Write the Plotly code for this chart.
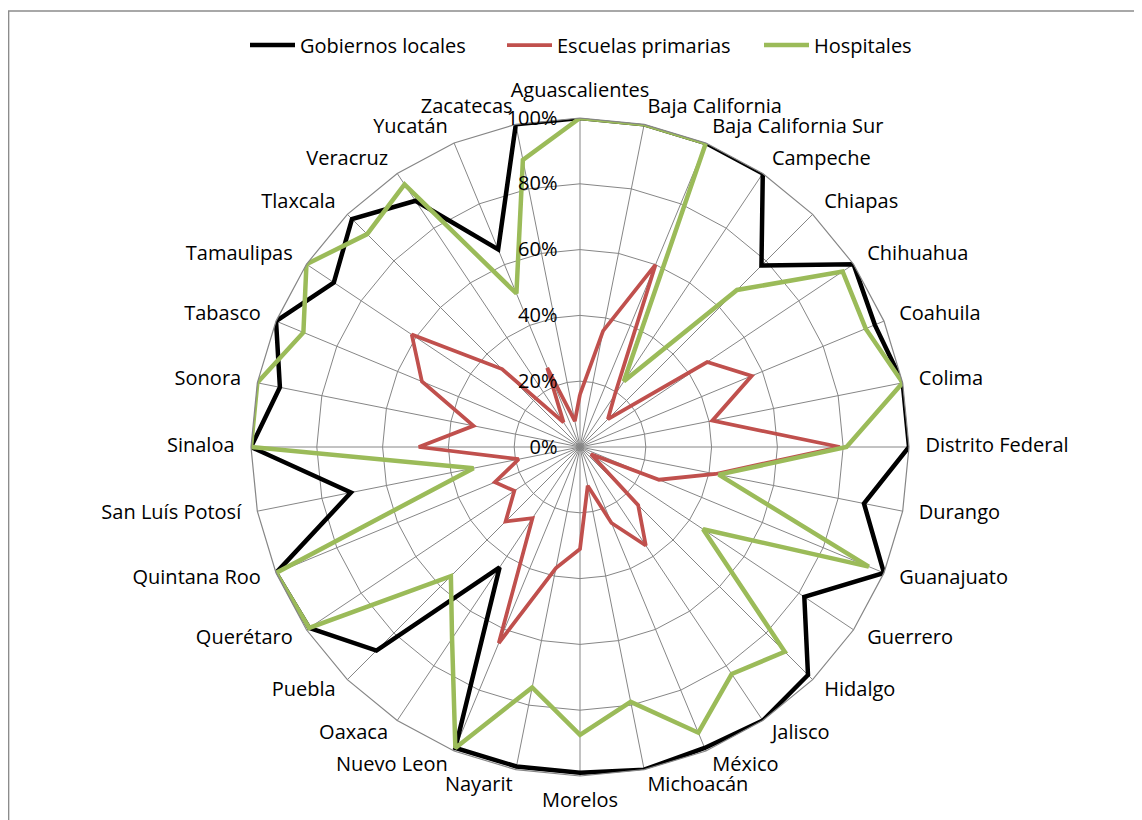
import plotly.graph_objects as go

estados = ["Aguascalientes", "Baja California", "Baja California Sur", "Campeche", "Chiapas",
           "Chihuahua", "Coahuila", "Colima", "Distrito Federal", "Durango", "Guanajuato",
           "Guerrero", "Hidalgo", "Jalisco", "México", "Michoacán", "Morelos", "Nayarit",
           "Nuevo Leon", "Oaxaca", "Puebla", "Querétaro", "Quintana Roo", "San Luís Potosí",
           "Sinaloa", "Sonora", "Tabasco", "Tamaulipas", "Tlaxcala", "Veracruz", "Yucatán",
           "Zacatecas"]

gobiernos_locales = [1.00, 1.00, 1.00, 1.00, 0.78, 1.00, 0.97, 1.00, 1.00, 0.88, 1.00,
                     0.82, 0.98, 1.00, 0.99, 1.00, 0.99, 0.99, 0.99, 0.44, 0.875, 0.99,
                     1.00, 0.71, 1.00, 0.93, 1.00, 0.90, 0.98, 0.90, 0.65, 1.00]

escuelas_primarias = [0.16, 0.36, 0.60, 0.19, 0.12, 0.465, 0.565, 0.41, 0.79, 0.42, 0.26,
                      0.04, 0.25, 0.36, 0.25, 0.12, 0.31, 0.375, 0.645, 0.26, 0.32, 0.24,
                      0.28, 0.19, 0.49, 0.33, 0.52, 0.615, 0.335, 0.09, 0.26, 0.08]

hospitales = [1.00, 1.00, 1.00, 0.24, 0.675, 0.96, 0.94, 1.00, 0.81, 0.43, 0.95,
              0.45, 0.88, 0.83, 0.94, 0.79, 0.875, 0.745, 0.99, 0.70, 0.555, 0.99,
              1.00, 0.33, 1.00, 1.00, 0.91, 1.00, 0.915, 0.96, 0.505, 0.89]

series = [
    ("Gobiernos locales", gobiernos_locales, "#000000", 4.5),
    ("Escuelas primarias", escuelas_primarias, "#C0504D", 3.75),
    ("Hospitales", hospitales, "#9BBB59", 4.5),
]

FONT = "Open Sans"
fig = go.Figure()
for name, vals, color, w in series:
    fig.add_trace(go.Scatterpolar(
        r=vals + vals[:1],
        theta=estados + estados[:1],
        mode="lines",
        name=name,
        line=dict(color=color, width=w),
        subplot="polar",
    ))

# Category labels placed Excel-style just outside the outer ring (on an overlay polar)
n = len(estados)
label_pos = []
for i in range(n):
    if i == 0:
        label_pos.append("top center")
    elif i == n // 2:
        label_pos.append("bottom center")
    elif i < n // 2:
        label_pos.append("middle right")
    else:
        label_pos.append("middle left")

LABEL_R = 1.05
fig.add_trace(go.Scatterpolar(
    r=[LABEL_R] * n,
    theta=estados,
    mode="text",
    text=estados,
    textposition=label_pos,
    textfont=dict(family=FONT, size=20, color="#000000"),
    showlegend=False,
    hoverinfo="skip",
    subplot="polar2",
))

W, H = 1142, 820
OFF = 8  # page body margin
cx, cy, R = 580 - OFF, 447 - OFF, 329
EXT = 1.1
R2 = R * EXT

angular_common = dict(
    type="category",
    categoryorder="array",
    categoryarray=estados,
    rotation=90,
    direction="clockwise",
)

fig.update_layout(
    width=W, height=H,
    margin=dict(l=0, r=0, t=0, b=0),
    paper_bgcolor="white",
    font=dict(family=FONT, size=20, color="#000000"),
    showlegend=True,
    legend=dict(orientation="h", x=(245 - OFF) / W, xanchor="left",
                y=1 - (45 - OFF) / H, yanchor="middle",
                itemwidth=45, entrywidth=197,
                font=dict(family=FONT, size=20), bgcolor="rgba(0,0,0,0)"),
    polar=dict(
        domain=dict(x=[(cx - R) / W, (cx + R) / W], y=[(H - cy - R) / H, (H - cy + R) / H]),
        bgcolor="white",
        gridshape="linear",
        angularaxis=dict(
            **angular_common,
            showgrid=True,
            gridcolor="#868686",
            gridwidth=1,
            showline=True,
            linecolor="#868686",
            linewidth=1.2,
            showticklabels=False,
            ticks="",
        ),
        radialaxis=dict(
            range=[0, 1],
            dtick=0.2,
            tick0=0,
            tickformat=".0%",
            angle=90,
            side="counterclockwise",
            showline=False,
            showgrid=True,
            gridcolor="#868686",
            gridwidth=1,
            ticks="outside",
            ticklen=15,
            tickcolor="rgba(0,0,0,0)",
            tickangle=90,
            tickfont=dict(family=FONT, size=20),
        ),
    ),
    polar2=dict(
        domain=dict(x=[(cx - R2) / W, (cx + R2) / W], y=[(H - cy - R2) / H, (H - cy + R2) / H]),
        bgcolor="rgba(0,0,0,0)",
        angularaxis=dict(**angular_common, visible=False, showgrid=False, showline=False,
                         showticklabels=False, ticks=""),
        radialaxis=dict(range=[0, EXT], visible=False, showgrid=False, showline=False,
                        showticklabels=False, ticks=""),
    ),
    shapes=[dict(type="rect", xref="paper", yref="paper",
                 x0=0.6 / W, x1=1.02, y0=-0.02, y1=1 - (11 - OFF) / H,
                 line=dict(color="#8c8c8c", width=1.5), fillcolor="rgba(0,0,0,0)", layer="below")],
)

fig.write_html("out.html")
